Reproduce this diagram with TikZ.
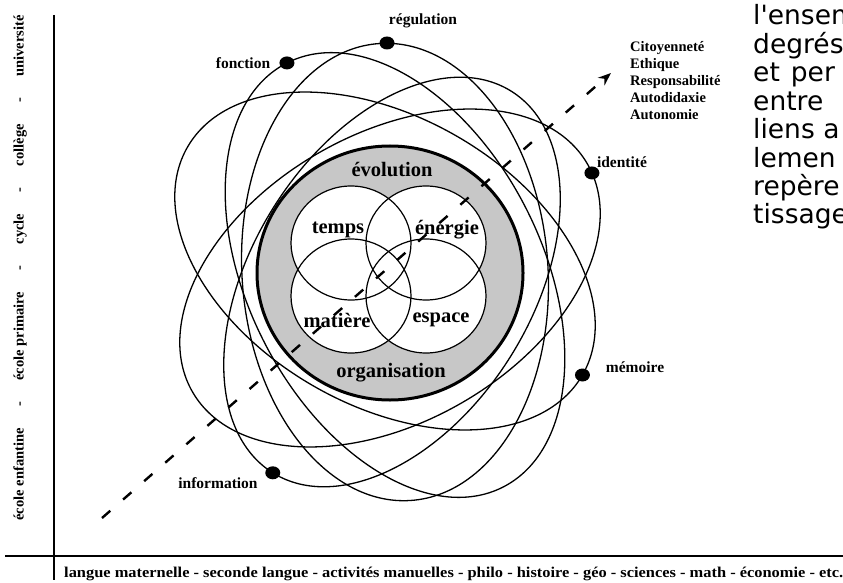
\documentclass[tikz,border=0pt]{standalone}
\usepackage{fontspec}
\usepackage{graphicx}
\setmainfont{Liberation Serif}
\newfontfamily\sansv{DejaVu Sans}
\usetikzlibrary{arrows.meta,shapes.geometric}
\begin{document}
\begin{tikzpicture}[x=1pt,y=-1pt,
  orbit/.style={line width=1.3pt},
  ring/.style={line width=1.2pt},
  lbl/.style={font=\fontsize{15.5}{17}\selectfont\bfseries, inner sep=0pt},
  core/.style={font=\fontsize{20.5}{22}\selectfont\bfseries, inner sep=0pt},
  side/.style={font=\sansv\fontsize{26.5}{28}\selectfont, inner sep=0pt, anchor=base west},
  dotmark/.style={ellipse, fill=black, draw=none, minimum width=15pt, minimum height=13pt, inner sep=0pt},
  axis/.style={line width=2pt}
]
\useasboundingbox (0,0) rectangle (843,583);
\fill[white] (0,0) rectangle (843,583);

% shaded core
\fill[black!22] (390,273) ellipse [x radius=133, y radius=127];
\foreach \c in {(351,243),(426,243),(351,296),(426,296)}
  \fill[white] \c ellipse [x radius=60, y radius=57];
\foreach \c in {(351,243),(426,243),(351,296),(426,296)}
  \draw[ring] \c ellipse [x radius=60, y radius=57];
\draw[line width=3pt] (390,273) ellipse [x radius=133, y radius=127];

% orbits with their dots
\begin{scope}[shift={(395,272)}, rotate=4]
  \draw[orbit] (0,0) ellipse [x radius=153, y radius=229];
\end{scope}
\node[dotmark] (dreg) at (387,43) {};
\begin{scope}[shift={(395,275)}, rotate=27]
  \draw[orbit] (0,0) ellipse [x radius=147, y radius=238];
  \node[dotmark] (dfon) at (0,-238) {};
\end{scope}
\begin{scope}[shift={(392,282)}, rotate=-32]
  \draw[orbit] (0,0) ellipse [x radius=140, y radius=225];
  \node[dotmark] (dinf) at (0,225) {};
\end{scope}
\begin{scope}[shift={(390,278)}, rotate=30]
  \draw[orbit] (0,0) ellipse [x radius=228, y radius=144];
  \node[dotmark] (dide) at (227.4,10) {};
\end{scope}
\begin{scope}[shift={(385,261)}, rotate=-30]
  \draw[orbit] (0,0) ellipse [x radius=228, y radius=144];
  \node[dotmark] (dmem) at (228,0) {};
\end{scope}

% orbit labels
\node[lbl] (lreg) at (423,21) {régulation};
\node[lbl] (lfon) at (243,63) {fonction};
\node[lbl] (lide) at (622,162) {identité};
\node[lbl] (lmem) at (635,367) {mémoire};
\node[lbl] (linf) at (218,483) {information};

% core labels
\node[core] (levo) at (392,170) {évolution};
\node[core] (ltem) at (338,230) {temps};
\node[core] (lene) at (447,230) {énergie};
\node[core] (lmat) at (337,320) {matière};
\node[core] (lesp) at (441,320) {espace};
\node[core] (lorg) at (391,373) {organisation};

% dashed arrow
\coordinate (dstart) at (102,518);
\coordinate (dend) at (611,73);
\draw[line width=2.4pt, dash pattern=on 11pt off 17pt, -{Stealth[length=13pt,width=10pt]}] (dstart) -- (dend);

% values list
\node[font=\fontsize{14.5}{17}\selectfont\bfseries, inner sep=0pt, anchor=west, align=left] (vals) at (630,81)
  {Citoyenneté\\Ethique\\Responsabilité\\Autodidaxie\\Autonomie};

% axes
\coordinate (vtop) at (54,15);
\coordinate (vbot) at (54,580);
\draw[axis] (vtop) -- (vbot);
\coordinate (hl) at (5,556);
\coordinate (hr) at (843,556);
\draw[axis] (hl) -- (hr);

\node[rotate=90, font=\fontsize{14.5}{16}\selectfont\bfseries, inner sep=0pt] (levels) at (20,268)
  {\makebox[505pt]{école enfantine\hfill-\hfill école primaire\hfill-\hfill cycle\hfill-\hfill collège\hfill-\hfill université}};

\node[anchor=west, inner sep=0pt, font=\fontsize{15}{17}\selectfont\bfseries] (subjects) at (64,574)
  {\resizebox{779pt}{\height}{langue maternelle - seconde langue - activités manuelles - philo - histoire - géo - sciences - math - économie - etc.}};

% clipped neighbouring column
\node[side] (t1) at (753,25) {l'ensem};
\node[side] (t2) at (753,53.4) {degrés};
\node[side] (t3) at (753,81.8) {et\hspace{11pt}per};
\node[side] (t4) at (753,110.2) {entre};
\node[side] (t5) at (753,138.6) {liens a};
\node[side] (t6) at (753,167) {lemen};
\node[side] (t7) at (753,195.4) {repère};
\node[side] (t8) at (753,223.8) {tissage};
\end{tikzpicture}
\end{document}
